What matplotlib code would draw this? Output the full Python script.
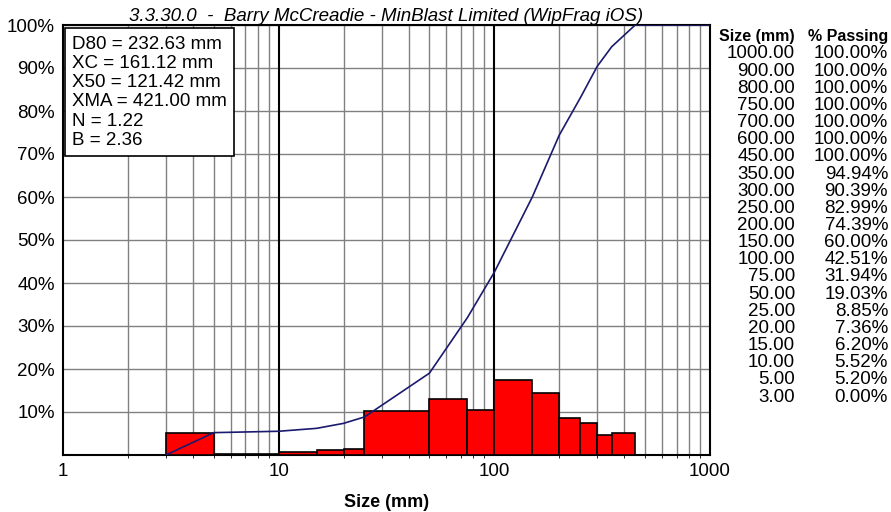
import numpy as np
import matplotlib.pyplot as plt
from matplotlib.ticker import FixedLocator, NullFormatter

plt.rcParams['font.family'] = ['Liberation Sans', 'DejaVu Sans']

# sieve sizes (mm) and cumulative % passing, from the table
sizes = [1000.0, 900.0, 800.0, 750.0, 700.0, 600.0, 450.0, 350.0, 300.0, 250.0, 200.0,
         150.0, 100.0, 75.0, 50.0, 25.0, 20.0, 15.0, 10.0, 5.0, 3.0]
passing = [100.00, 100.00, 100.00, 100.00, 100.00, 100.00, 100.00, 94.94, 90.39, 82.99,
           74.39, 60.00, 42.51, 31.94, 19.03, 8.85, 7.36, 6.20, 5.52, 5.20, 0.00]

stats = ["D80 = 232.63 mm", "XC = 161.12 mm", "X50 = 121.42 mm",
         "XMA = 421.00 mm", "N = 1.22", "B = 2.36"]
title = "3.3.30.0  -  Barry McCreadie - MinBlast Limited (WipFrag iOS)"

s = np.array(sizes[::-1])
p = np.array(passing[::-1])
lo = s[:-1]
hi = s[1:]
h = np.diff(p)
keep = h > 0

fig = plt.figure(figsize=(8.91, 5.12), dpi=100)
ax = fig.add_axes([63/891, 1 - 455/512, (710-63)/891, (455-25)/512])

ax.set_xscale('log')
ax.set_xlim(1, 1000)
ax.set_ylim(0, 100)

# grid
ax.xaxis.set_minor_locator(FixedLocator([m * 10**e for e in range(0, 3) for m in range(2, 10)]))
ax.xaxis.set_minor_formatter(NullFormatter())
ax.grid(True, which='minor', axis='x', color='#808080', lw=1.0)
ax.grid(True, which='major', axis='y', color='#808080', lw=1.0)
for xv in [10, 100]:
    ax.axvline(xv, color='black', lw=1.5, zorder=1)
ax.set_axisbelow(True)

# histogram of retained fractions
ax.bar(lo[keep], h[keep], width=(hi - lo)[keep], align='edge', color='#ff0000',
       edgecolor='black', lw=1.2, zorder=3)

# cumulative curve
ax.plot(s, p, color='#1a1a6e', lw=1.2, zorder=4)

ax.set_xticks([1, 10, 100, 1000])
ax.set_xticklabels(['1', '10', '100', '1000'], fontsize=13.5)
ax.set_yticks(range(0, 101, 10))
ax.set_yticklabels([''] + [f'{v}%' for v in range(10, 101, 10)], fontsize=13.5)
ax.tick_params(length=0, pad=6)
for sp in ax.spines.values():
    sp.set_color('black')
    sp.set_linewidth(1.5)

ax.set_xlabel('Size (mm)', fontsize=13, fontweight='bold', labelpad=10)
ax.set_title(title, fontsize=13.5, style='italic', pad=2)

ax.text(0.014, 0.975, '\n'.join(stats), transform=ax.transAxes, va='top', ha='left',
        fontsize=13.5, linespacing=1.17, zorder=5,
        bbox=dict(boxstyle='square,pad=0.4', fc='white', ec='black', lw=1.2))

# table at right
fig.text(795/891, 1 - 36/512, 'Size (mm)', ha='right', va='center', fontsize=11.5, fontweight='bold')
fig.text(888/891, 1 - 36/512, '% Passing', ha='right', va='center', fontsize=11.5, fontweight='bold')
for i, (sz, ps) in enumerate(zip(sizes, passing)):
    y = 1 - (54 + i * 17.15) / 512
    fig.text(795/891, y, f'{sz:.2f}', ha='right', va='center', fontsize=13.5)
    fig.text(888/891, y, f'{ps:.2f}%', ha='right', va='center', fontsize=13.5)

fig.savefig('out.png', dpi=100)
